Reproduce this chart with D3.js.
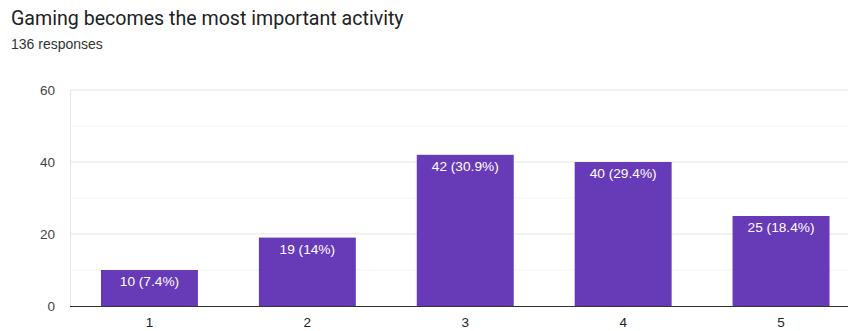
<!DOCTYPE html>
<html>
<head>
<meta charset="utf-8">
<script src="https://cdn.jsdelivr.net/npm/d3@7"></script>
<style>
  body { margin: 0; background: #fff; }
  svg { display: block; font-family: Arial, "Liberation Sans", sans-serif; }
</style>
</head>
<body>
<svg id="chart" width="848" height="331"></svg>
<script>
const categories = ["1", "2", "3", "4", "5"];
const counts = [10, 19, 42, 40, 25];
const percents = ["7.4%", "14%", "30.9%", "29.4%", "18.4%"];
const yTicks = [0, 20, 40, 60];
const minorTicks = [10, 30, 50];

const width = 848;

const svg = d3.select("#chart");

svg.append("text")
  .attr("x", 11).attr("y", 25)
  .style("font-family", "Roboto, sans-serif")
  .style("font-size", "19.6px")
  .style("fill", "#202124")
  .text("Gaming becomes the most important activity");

svg.append("text")
  .attr("x", 11).attr("y", 49)
  .style("font-size", "14px")
  .style("fill", "#333")
  .text("136 responses");

const y = d3.scaleLinear().domain([0, 60]).range([306, 90]);
const x = d3.scaleBand()
  .domain(categories)
  .range([70.5, 860])
  .paddingInner(0.386)
  .paddingOuter(0.193);

const g = svg.append("g");

// minor grid
g.selectAll(".minor").data(minorTicks).join("line")
  .attr("x1", 70).attr("x2", width)
  .attr("y1", d => y(d)).attr("y2", d => y(d))
  .style("stroke", "#f3f3f3");

// major grid
g.selectAll(".major").data(yTicks.filter(d => d > 0)).join("line")
  .attr("x1", 70).attr("x2", width)
  .attr("y1", d => y(d)).attr("y2", d => y(d))
  .style("stroke", "#e6e6e6");

// left axis line
g.append("line")
  .attr("x1", 70.5).attr("x2", 70.5)
  .attr("y1", y(60)).attr("y2", y(0))
  .style("stroke", "#e6e6e6");

// y labels
g.selectAll(".ylab").data(yTicks).join("text")
  .attr("x", 55).attr("y", d => y(d))
  .attr("dy", "0.35em")
  .attr("text-anchor", "end")
  .style("font-size", "13.5px")
  .style("fill", "#444")
  .text(d => d);

// bars
g.selectAll(".bar").data(counts).join("rect")
  .attr("x", (d, i) => x(categories[i]))
  .attr("y", d => y(d))
  .attr("width", x.bandwidth())
  .attr("height", d => y(0) - y(d))
  .style("fill", "#673ab7");

// bar labels
g.selectAll(".blab").data(counts).join("text")
  .attr("x", (d, i) => x(categories[i]) + x.bandwidth() / 2)
  .attr("y", d => y(d) + 16)
  .attr("text-anchor", "middle")
  .style("font-size", "13.7px")
  .style("fill", "#fff")
  .text((d, i) => `${d} (${percents[i]})`);

// baseline
g.append("line")
  .attr("x1", 70).attr("x2", width)
  .attr("y1", y(0) + 0.5).attr("y2", y(0) + 0.5)
  .style("stroke", "#333");

// x labels
g.selectAll(".xlab").data(categories).join("text")
  .attr("x", d => x(d) + x.bandwidth() / 2)
  .attr("y", 327)
  .attr("text-anchor", "middle")
  .style("font-size", "13.5px")
  .style("fill", "#222")
  .text(d => d);
</script>
</body>
</html>
